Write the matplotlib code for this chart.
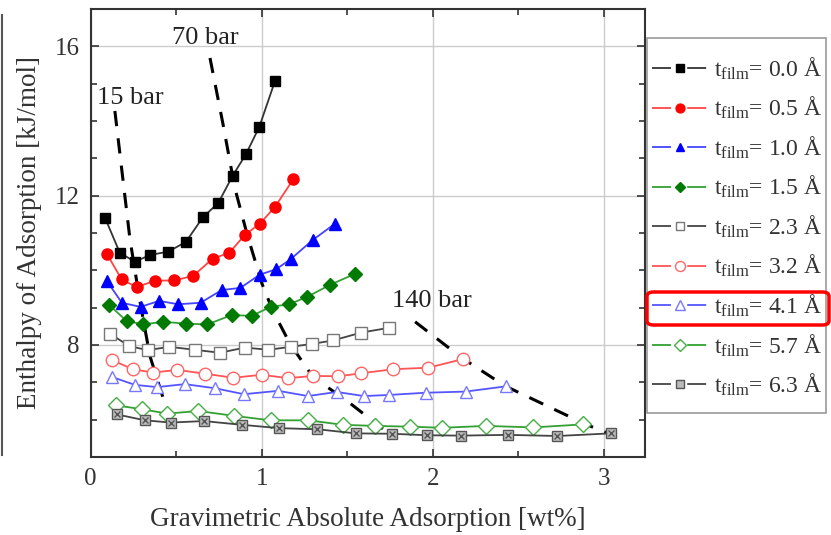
import numpy as np
import matplotlib
matplotlib.use('Agg')
import matplotlib.pyplot as plt
from matplotlib.patches import FancyBboxPatch, Rectangle
from matplotlib.lines import Line2D

plt.rcParams['font.family'] = ['Liberation Serif', 'DejaVu Serif']
plt.rcParams['mathtext.fontset'] = 'custom'
plt.rcParams['mathtext.rm'] = 'Liberation Serif'

# series: x in wt%, y in kJ/mol
t00_x = [0.084, 0.171, 0.259, 0.347, 0.454, 0.557, 0.658, 0.746, 0.830, 0.908, 0.986, 1.077]
t00_y = [11.41, 10.47, 10.23, 10.41, 10.50, 10.76, 11.43, 11.80, 12.53, 13.11, 13.84, 15.06]
t05_x = [0.094, 0.181, 0.269, 0.376, 0.489, 0.600, 0.713, 0.811, 0.902, 0.990, 1.078, 1.185]
t05_y = [10.45, 9.76, 9.55, 9.72, 9.73, 9.85, 10.31, 10.47, 10.95, 11.25, 11.70, 12.44]
t10_x = [0.094, 0.183, 0.292, 0.401, 0.512, 0.643, 0.766, 0.876, 0.988, 1.085, 1.170, 1.298, 1.429]
t10_y = [9.72, 9.13, 9.02, 9.18, 9.09, 9.13, 9.47, 9.53, 9.88, 10.03, 10.30, 10.81, 11.25]
t15_x = [0.109, 0.211, 0.308, 0.425, 0.557, 0.682, 0.825, 0.942, 1.053, 1.161, 1.267, 1.399, 1.548]
t15_y = [9.07, 8.64, 8.55, 8.62, 8.57, 8.55, 8.80, 8.78, 9.02, 9.09, 9.29, 9.61, 9.91]
t23_x = [0.113, 0.226, 0.333, 0.460, 0.610, 0.756, 0.902, 1.039, 1.170, 1.297, 1.417, 1.581, 1.746]
t23_y = [8.30, 7.97, 7.86, 7.95, 7.87, 7.79, 7.93, 7.87, 7.95, 8.03, 8.12, 8.33, 8.46]
t32_x = [0.123, 0.246, 0.363, 0.507, 0.669, 0.834, 1.000, 1.156, 1.302, 1.448, 1.581, 1.770, 1.975, 2.175]
t32_y = [7.60, 7.35, 7.26, 7.33, 7.23, 7.12, 7.20, 7.11, 7.17, 7.16, 7.24, 7.35, 7.39, 7.62]
t41_x = [0.126, 0.259, 0.389, 0.551, 0.727, 0.896, 1.097, 1.271, 1.439, 1.598, 1.746, 1.961, 2.192, 2.427]
t41_y = [7.14, 6.93, 6.87, 6.95, 6.84, 6.68, 6.77, 6.63, 6.74, 6.63, 6.66, 6.72, 6.75, 6.89]
t57_x = [0.148, 0.298, 0.448, 0.630, 0.838, 1.053, 1.273, 1.475, 1.662, 1.867, 2.052, 2.312, 2.588, 2.877]
t57_y = [6.38, 6.28, 6.16, 6.23, 6.10, 5.98, 5.98, 5.86, 5.83, 5.81, 5.78, 5.83, 5.79, 5.87]
t63_x = [0.152, 0.318, 0.468, 0.663, 0.883, 1.103, 1.326, 1.551, 1.760, 1.967, 2.163, 2.440, 2.729, 3.040]
t63_y = [6.14, 5.98, 5.92, 5.96, 5.86, 5.77, 5.74, 5.63, 5.62, 5.58, 5.57, 5.59, 5.56, 5.63]

# isobars (dashed)
p15_x = [0.142, 0.230, 0.288, 0.347, 0.446]
p15_y = [14.27, 10.84, 9.18, 7.70, 6.26]
p70_x = [0.698, 0.774, 0.843, 0.914, 1.002, 1.066, 1.166, 1.300, 1.499, 1.709]
p70_y = [15.69, 13.92, 12.21, 10.98, 9.64, 8.91, 8.03, 7.14, 6.50, 5.75]
p140_x = [1.897, 2.171, 2.423, 2.891, 3.037]
p140_y = [8.62, 7.65, 6.90, 5.88, 5.61]

films = ['0.0', '0.5', '1.0', '1.5', '2.3', '3.2', '4.1', '5.7', '6.3']

fig = plt.figure(figsize=(8.31, 5.35), dpi=100)
ax = fig.add_axes([0.109, 0.146, 0.667, 0.837])

ax.grid(True, color='#cccccc', lw=1.0)
ax.set_axisbelow(True)

for xs, ys in [(p15_x, p15_y), (p70_x, p70_y), (p140_x, p140_y)]:
    ax.plot(xs, ys, color='black', lw=2.2, ls=(0, (5, 4)), zorder=2)

ms = 7
# (line colour, marker, face, edge, size)
styles = [
    ('#333333', 's', 'black', 'black', ms),
    ('#ff4444', 'o', 'red', 'red', ms + 1),
    ('#4444ff', '^', 'blue', 'blue', ms + 1),
    ('#33a033', 'D', '#007a00', '#007a00', ms),
    ('#444444', 's', 'white', '#777777', ms + 1),
    ('#ff5555', 'o', 'white', '#ff6666', ms + 2),
    ('#5555ff', '^', 'white', '#7777ff', ms + 2),
    ('#33a033', 'D', 'white', '#44b044', ms + 1),
    ('#444444', 's', '#bbbbbb', '#555555', ms),
]
series = [(t00_x, t00_y), (t05_x, t05_y), (t10_x, t10_y), (t15_x, t15_y), (t23_x, t23_y),
          (t32_x, t32_y), (t41_x, t41_y), (t57_x, t57_y), (t63_x, t63_y)]

handles = []
for (xs, ys), (lc, mk, fc, ec, sz) in zip(series, styles):
    ax.plot(xs, ys, '-', marker=mk, color=lc, mfc=fc, mec=ec, ms=sz, lw=1.3, zorder=3)
    # legend proxy: line broken around the marker, as in the original
    handles.append(Line2D([], [], color=lc, marker=mk, mfc=fc, mec=ec, ms=sz * 0.8, lw=1.3,
                          ls=(0, (10.5, 9, 10.5, 100))))
ax.plot(t63_x, t63_y, 'x', color='#555555', ms=ms - 2, mew=1.0, zorder=4)

ax.text(0.037, 14.62, '15 bar', fontsize=19, va='center', ha='left', color='#222222')
ax.text(0.474, 16.22, '70 bar', fontsize=19, va='center', ha='left', color='#222222')
ax.text(1.76, 9.18, '140 bar', fontsize=19, va='center', ha='left', color='#222222')

ax.set_xlim(0, 3.24)
ax.set_ylim(5, 17)
ax.set_xticks([0, 1, 2, 3])
ax.set_xticks(np.arange(0.5, 3.2, 1.0), minor=True)
ax.set_yticks([8, 12, 16])
ax.set_yticks([6, 7, 9, 10, 11, 13, 14, 15, 17], minor=True)
ax.tick_params(which='both', direction='in', top=True, right=True, labelsize=18, colors='#333333')
ax.tick_params(which='major', length=6, width=1.2, pad=8)
ax.tick_params(which='minor', length=4, width=1.2)
for s in ax.spines.values():
    s.set_linewidth(1.5)
    s.set_color('#333333')

ax.set_xlabel('Gravimetric Absolute Adsorption [wt%]', fontsize=19.5, labelpad=12, color='#333333')
ax.set_ylabel('Enthalpy of Adsorption [kJ/mol]', fontsize=19.5, labelpad=9, color='#333333')

labels = [r'$\mathregular{t_{film}}$= ' + f + ' Å' for f in films]
leg = fig.legend(handles, labels, loc='upper left', bbox_to_anchor=(644 / 831, 1 - 48 / 535),
                 bbox_transform=fig.transFigure, fontsize=17, frameon=False,
                 handlelength=2.45, handletextpad=0.2, labelspacing=0.56, borderpad=0.32,
                 borderaxespad=0)
for t in leg.get_texts():
    t.set_color('#333333')

# legend frame drawn separately (more padding top and bottom than at the sides)
fig.patches.append(Rectangle((647 / 831, 1 - 413 / 535), 179 / 831, 375 / 535,
                             transform=fig.transFigure, fill=False, edgecolor='#999999',
                             lw=1.2, zorder=1))

# red highlight round the 4.1 entry
box = FancyBboxPatch((647 / 831, 1 - 325 / 535), 182 / 831, 33 / 535,
                     boxstyle='round,pad=0,rounding_size=0.008', transform=fig.transFigure,
                     fill=False, edgecolor='red', lw=2.5, zorder=10)
fig.patches.append(box)

# edge of neighbouring panel at far left
fig.lines.append(Line2D([0.003, 0.003], [1 - 455 / 535, 1 - 15 / 535], transform=fig.transFigure,
                        color='#555555', lw=1.5))

fig.savefig('out.png', dpi=100)
